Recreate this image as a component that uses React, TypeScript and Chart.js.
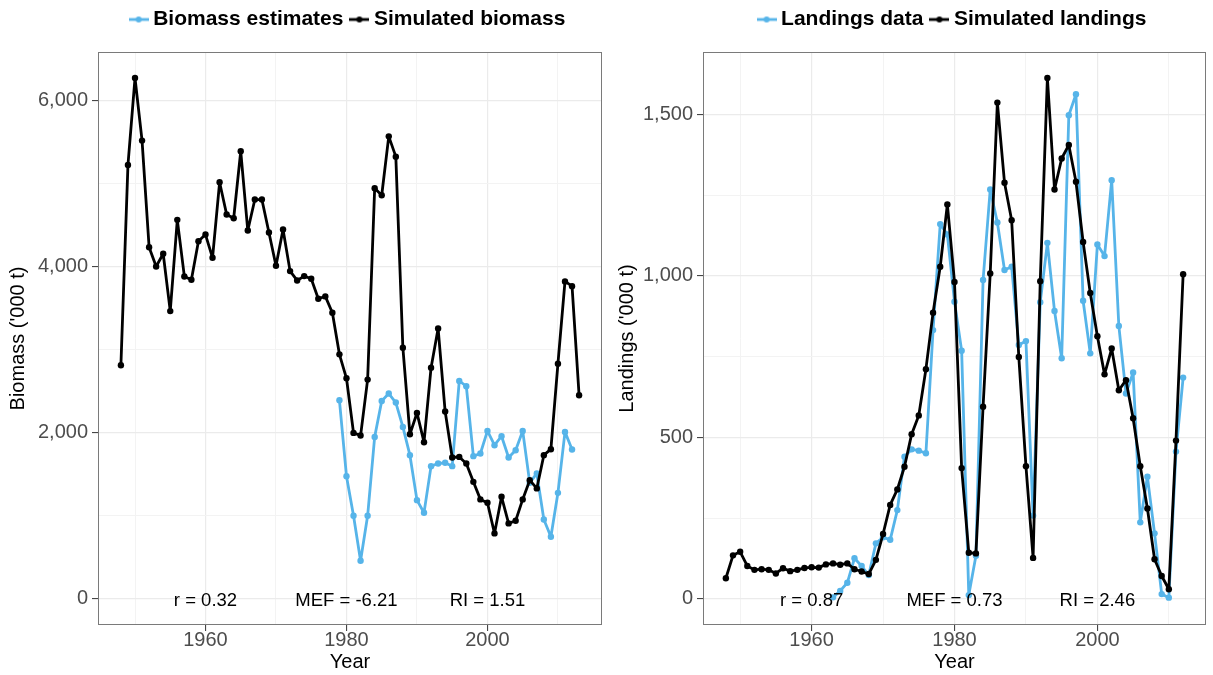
import React, { useEffect, useRef } from 'react';
import { Chart, registerables } from 'chart.js';

Chart.register(...registerables);

const FONT = "'Liberation Sans', Arial, Helvetica, sans-serif";
const BLUE = '#56B4E9';
const BLACK = '#000000';

// ---------- Left panel: biomass ----------
const simBiomassYears = [
  1948, 1949, 1950, 1951, 1952, 1953, 1954, 1955, 1956, 1957,
  1958, 1959, 1960, 1961, 1962, 1963, 1964, 1965, 1966, 1967,
  1968, 1969, 1970, 1971, 1972, 1973, 1974, 1975, 1976, 1977,
  1978, 1979, 1980, 1981, 1982, 1983, 1984, 1985, 1986, 1987,
  1988, 1989, 1990, 1991, 1992, 1993, 1994, 1995, 1996, 1997,
  1998, 1999, 2000, 2001, 2002, 2003, 2004, 2005, 2006, 2007,
  2008, 2009, 2010, 2011, 2012, 2013,
];
const simBiomass = [
  2811, 5222, 6267, 5514, 4232, 4000, 4153, 3463, 4561, 3880,
  3840, 4304, 4384, 4104, 5013, 4625, 4580, 5386, 4432, 4805,
  4805, 4408, 4008, 4444, 3944, 3832, 3884, 3852, 3612, 3640,
  3444, 2943, 2655, 1998, 1966, 2639, 4941, 4857, 5565, 5321,
  3023, 1982, 2238, 1886, 2783, 3255, 2255, 1702, 1709, 1630,
  1409, 1198, 1157, 789, 1229, 909, 941, 1198, 1429, 1330,
  1730, 1802, 2831, 3820, 3763, 2450,
];
const estBiomassYears = [
  1979, 1980, 1981, 1982, 1983, 1984, 1985, 1986, 1987, 1988,
  1989, 1990, 1991, 1992, 1993, 1994, 1995, 1996, 1997, 1998,
  1999, 2000, 2001, 2002, 2003, 2004, 2005, 2006, 2007, 2008,
  2009, 2010, 2011, 2012,
];
const estBiomass = [
  2390, 1477, 1001, 460, 1001, 1950, 2382, 2471, 2363, 2070,
  1730, 1189, 1037, 1598, 1630, 1638, 1598, 2623, 2559, 1718,
  1750, 2022, 1850, 1958, 1702, 1790, 2022, 1397, 1510, 957,
  748, 1277, 2010, 1798,
];
const biomassYTicks = [0, 1000, 2000, 3000, 4000, 5000, 6000];
const biomassYMajor = [0, 2000, 4000, 6000];
const biomassStats = ['r = 0.32', 'MEF = -6.21', 'RI = 1.51'];

// ---------- Right panel: landings ----------
const simLandingsYears = [
  1948, 1949, 1950, 1951, 1952, 1953, 1954, 1955, 1956, 1957,
  1958, 1959, 1960, 1961, 1962, 1963, 1964, 1965, 1966, 1967,
  1968, 1969, 1970, 1971, 1972, 1973, 1974, 1975, 1976, 1977,
  1978, 1979, 1980, 1981, 1982, 1983, 1984, 1985, 1986, 1987,
  1988, 1989, 1990, 1991, 1992, 1993, 1994, 1995, 1996, 1997,
  1998, 1999, 2000, 2001, 2002, 2003, 2004, 2005, 2006, 2007,
  2008, 2009, 2010, 2011, 2012,
];
const simLandings = [
  64, 135, 146, 102, 90, 92, 90, 79, 95, 86,
  90, 96, 98, 97, 107, 110, 106, 110, 92, 85,
  77, 121, 201, 291, 339, 409, 510, 568, 711, 886,
  1028, 1221, 981, 405, 143, 141, 595, 1007, 1536, 1288,
  1172, 749, 411, 127, 983, 1612, 1267, 1363, 1405, 1291,
  1105, 947, 813, 695, 775, 646, 677, 559, 411, 280,
  123, 71, 30, 490, 1005,
];
const obsLandingsYears = [
  1963, 1964, 1965, 1966, 1967, 1968, 1969, 1970, 1971, 1972,
  1973, 1974, 1975, 1976, 1977, 1978, 1979, 1980, 1981, 1982,
  1983, 1984, 1985, 1986, 1987, 1988, 1989, 1990, 1991, 1992,
  1993, 1994, 1995, 1996, 1997, 1998, 1999, 2000, 2001, 2002,
  2003, 2004, 2005, 2006, 2007, 2008, 2009, 2010, 2011, 2012,
];
const obsLandings = [
  5, 25, 50, 126, 102, 74, 172, 191, 183, 275,
  440, 463, 459, 451, 832, 1160, 1128, 920, 768, 12,
  134, 987, 1267, 1165, 1018, 1028, 786, 798, 258, 918,
  1102, 891, 745, 1497, 1562, 923, 760, 1097, 1061, 1296,
  845, 636, 701, 237, 378, 203, 15, 4, 456, 685,
];
const landingsYTicks = [0, 250, 500, 750, 1000, 1250, 1500];
const landingsYMajor = [0, 500, 1000, 1500];
const landingsStats = ['r = 0.87', 'MEF = 0.73', 'RI = 2.46'];

// ---------- shared ----------
const xTicks = [1950, 1960, 1970, 1980, 1990, 2000, 2010];
const xMajor = [1960, 1980, 2000];
const statYears = [1960, 1980, 2000];

function makeIcon(color: string): HTMLCanvasElement {
  const c = document.createElement('canvas');
  c.width = 20;
  c.height = 10;
  const g = c.getContext('2d')!;
  g.strokeStyle = color;
  g.lineWidth = 2.8;
  g.beginPath();
  g.moveTo(0, 5);
  g.lineTo(20, 5);
  g.stroke();
  g.fillStyle = color;
  g.beginPath();
  g.arc(10, 5, 3, 0, Math.PI * 2);
  g.fill();
  return c;
}

const legendHeightPlugin = {
  id: 'legendHeight',
  beforeLayout(chart: any, _args: any, opts: any) {
    const lg = chart.legend;
    if (lg && !lg.__patched) {
      const orig = lg.fit.bind(lg);
      lg.fit = function () {
        orig();
        this.height = opts.height;
      };
      lg.__patched = true;
    }
  },
};

const panelPlugin = {
  id: 'panel',
  afterDatasetsDraw(chart: any, _args: any, opts: any) {
    const { ctx, scales } = chart;
    ctx.save();
    ctx.fillStyle = '#000';
    ctx.font = `18.5px ${FONT}`;
    ctx.textAlign = 'center';
    ctx.textBaseline = 'middle';
    opts.stats.forEach((s: string, i: number) => {
      const x = scales.x.getPixelForValue(opts.years[i]);
      const y = scales.y.getPixelForValue(0) + 1.5;
      ctx.fillText(s, x, y);
    });
    ctx.restore();
  },
  afterDraw(chart: any) {
    const { ctx, chartArea } = chart;
    ctx.save();
    ctx.strokeStyle = '#7a7a7a';
    ctx.lineWidth = 1;
    ctx.strokeRect(
      Math.round(chartArea.left) + 0.5,
      Math.round(chartArea.top) + 0.5,
      Math.round(chartArea.right - chartArea.left) - 1,
      Math.round(chartArea.bottom - chartArea.top) - 1,
    );
    ctx.restore();
  },
};

type PanelSpec = {
  simLabel: string;
  obsLabel: string;
  simYears: number[];
  sim: number[];
  obsYears: number[];
  obs: number[];
  yTitle: string;
  yTicks: number[];
  yMajor: number[];
  yMin: number;
  yMax: number;
  xMin: number;
  xMax: number;
  stats: string[];
  yAxisWidth: number;
  yTitlePad: number;
  padRight: number;
};

function buildConfig(p: PanelSpec): any {
  const icons = [makeIcon(BLACK), makeIcon(BLUE)];
  const lineDs = (label: string, years: number[], vals: number[], color: string) => ({
    label,
    data: years.map((yr, i) => ({ x: yr, y: vals[i] })),
    borderColor: color,
    backgroundColor: color,
    pointBackgroundColor: color,
    pointBorderColor: color,
    borderWidth: 2.8,
    borderJoinStyle: 'round',
    borderCapStyle: 'round',
    pointRadius: 3.2,
    pointBorderWidth: 0,
    pointStyle: 'circle',
    tension: 0,
    fill: false,
  });
  return {
    type: 'line',
    data: {
      datasets: [
        lineDs(p.simLabel, p.simYears, p.sim, BLACK),
        lineDs(p.obsLabel, p.obsYears, p.obs, BLUE),
      ],
    },
    options: {
      responsive: false,
      animation: false,
      devicePixelRatio: 1,
      layout: { padding: { top: -3, left: 0, right: p.padRight, bottom: 0 } },
      plugins: {
        tooltip: { enabled: false },
        legendHeight: { height: 55 },
        panel: { stats: p.stats, years: statYears },
        legend: {
          display: true,
          position: 'top',
          fullSize: false,
          labels: {
            usePointStyle: true,
            pointStyleWidth: 8,
            padding: 12,
            color: '#000',
            font: { family: FONT, size: 21, weight: 'bold' },
            sort: (a: any, b: any) => b.datasetIndex - a.datasetIndex,
            generateLabels: (chart: any) => {
              const items = (Chart.defaults as any).plugins.legend.labels.generateLabels(chart);
              return items.map((it: any) => ({
                ...it,
                pointStyle: icons[it.datasetIndex],
                fontColor: '#000',
              }));
            },
          },
        },
      },
      scales: {
        x: {
          type: 'linear',
          bounds: 'data',
          min: p.xMin,
          max: p.xMax,
          afterBuildTicks: (s: any) => {
            s.ticks = xTicks.map((v) => ({ value: v }));
          },
          afterFit: (s: any) => {
            s.height = 50;
          },
          ticks: {
            autoSkip: false,
            maxRotation: 0,
            color: '#4D4D4D',
            padding: -1,
            font: { family: FONT, size: 20, lineHeight: 1 },
            callback: (v: number) => (xMajor.includes(v) ? String(v) : ''),
          },
          grid: {
            color: (c: any) => (xMajor.includes(c.tick?.value) ? '#EBEBEB' : '#F3F3F3'),
            lineWidth: (c: any) => (xMajor.includes(c.tick?.value) ? 1.2 : 1),
            tickLength: 6,
            tickColor: (c: any) => (xMajor.includes(c.tick?.value) ? '#333333' : 'rgba(0,0,0,0)'),
            tickWidth: 1,
          },
          border: { display: false },
          title: {
            display: true,
            text: 'Year',
            color: '#000',
            font: { family: FONT, size: 20, lineHeight: 1.2 },
            padding: { top: 0, bottom: 1 },
          },
        },
        y: {
          type: 'linear',
          bounds: 'data',
          min: p.yMin,
          max: p.yMax,
          afterBuildTicks: (s: any) => {
            s.ticks = p.yTicks.map((v) => ({ value: v }));
          },
          afterFit: (s: any) => {
            s.width = p.yAxisWidth;
          },
          ticks: {
            color: '#4D4D4D',
            padding: 4,
            font: { family: FONT, size: 20, lineHeight: 1 },
            callback: (v: number) => (p.yMajor.includes(v) ? v.toLocaleString('en-US') : ''),
          },
          grid: {
            color: (c: any) => (p.yMajor.includes(c.tick?.value) ? '#EBEBEB' : '#F3F3F3'),
            lineWidth: (c: any) => (p.yMajor.includes(c.tick?.value) ? 1.2 : 1),
            tickLength: 6,
            tickColor: (c: any) => (p.yMajor.includes(c.tick?.value) ? '#333333' : 'rgba(0,0,0,0)'),
            tickWidth: 1,
          },
          border: { display: false },
          title: {
            display: true,
            text: p.yTitle,
            color: '#000',
            font: { family: FONT, size: 20, lineHeight: 1.2 },
            padding: { top: p.yTitlePad, bottom: 0 },
          },
        },
      },
    },
    plugins: [legendHeightPlugin, panelPlugin],
  };
}

export default function App() {
  const leftRef = useRef<HTMLCanvasElement | null>(null);
  const rightRef = useRef<HTMLCanvasElement | null>(null);

  useEffect(() => {
    Chart.defaults.font.family = FONT;
    const left = new Chart(
      leftRef.current!,
      buildConfig({
        simLabel: 'Simulated biomass',
        obsLabel: 'Biomass estimates',
        simYears: simBiomassYears,
        sim: simBiomass,
        obsYears: estBiomassYears,
        obs: estBiomass,
        yTitle: "Biomass ('000 t)",
        yTicks: biomassYTicks,
        yMajor: biomassYMajor,
        yMin: -313,
        yMax: 6580,
        xMin: 1944.75,
        xMax: 2016.25,
        stats: biomassStats,
        yAxisWidth: 98,
        yTitlePad: 6,
        padRight: 4,
      }),
    );
    const right = new Chart(
      rightRef.current!,
      buildConfig({
        simLabel: 'Simulated landings',
        obsLabel: 'Landings data',
        simYears: simLandingsYears,
        sim: simLandings,
        obsYears: obsLandingsYears,
        obs: obsLandings,
        yTitle: "Landings ('000 t)",
        yTicks: landingsYTicks,
        yMajor: landingsYMajor,
        yMin: -80.6,
        yMax: 1692.6,
        xMin: 1944.8,
        xMax: 2015.2,
        stats: landingsStats,
        yAxisWidth: 97,
        yTitlePad: 9,
        padRight: 7,
      }),
    );
    return () => {
      left.destroy();
      right.destroy();
    };
  }, []);

  return (
    <div style={{ position: 'absolute', left: 0, top: 0, width: 1213, height: 675, background: '#fff' }}>
      <canvas ref={leftRef} width={606} height={675} style={{ position: 'absolute', left: 0, top: 0 }} />
      <canvas ref={rightRef} width={607} height={675} style={{ position: 'absolute', left: 606, top: 0 }} />
    </div>
  );
}
